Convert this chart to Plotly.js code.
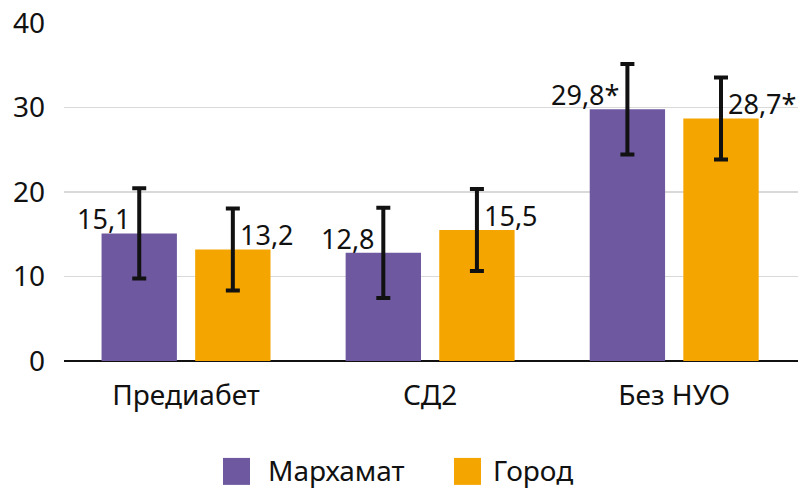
<!DOCTYPE html>
<html><head><meta charset="utf-8">
<script src="https://cdn.plot.ly/plotly-3.0.1.min.js"></script>
<style>html,body{margin:0;padding:0;background:#fff}#chart{width:800px;height:495px}</style>
</head><body><div id="chart"></div>
<script>
const categories = ["Предиабет", "СД2", "Без НУО"];
const seriesNames = ["Мархамат", "Город"];
const markhamatValues = [15.1, 12.8, 29.8];
const gorodValues = [13.2, 15.5, 28.7];
const markhamatErrors = [5.35, 5.35, 5.35];
const gorodErrors = [4.85, 4.85, 4.85];
const markhamatLabels = ["15,1", "12,8", "29,8*"];
const gorodLabels = ["13,2", "15,5", "28,7*"];
const yTicks = [0, 10, 20, 30, 40];

const colors = ["#6E59A0", "#F5A500"];
const FONT = "Noto Sans, Open Sans, sans-serif";
const FS = 28;
const bargap = 0.233, bargroupgap = 0.195;

function barTrace(name, vals, errs, color) {
  return {
    type: "bar", x: categories, y: vals, name: name,
    marker: {color: color, line: {width: 0}},
    error_y: {type: "data", array: errs, visible: true, color: "#111", thickness: 4, width: 7},
    hoverinfo: "skip", showlegend: false
  };
}
const data = [
  barTrace(seriesNames[0], markhamatValues, markhamatErrors, colors[0]),
  barTrace(seriesNames[1], gorodValues, gorodErrors, colors[1])
];

const slot = (1 - bargap) / 2;
const annotations = [];
categories.forEach((c, i) => {
  annotations.push({x: i - slot / 2, y: markhamatValues[i], xref: "x", yref: "y",
    text: markhamatLabels[i], showarrow: false, xanchor: "right", yanchor: "bottom",
    xshift: -6, yshift: -6, font: {family: FONT, size: FS - 1, color: "#111"}});
  annotations.push({x: i + slot / 2, y: gorodValues[i], xref: "x", yref: "y",
    text: gorodLabels[i], showarrow: false, xanchor: "left", yanchor: "bottom",
    xshift: 5, yshift: -6, font: {family: FONT, size: FS - 1, color: "#111"}});
});

const shapes = [];
const legendItems = [{x0: 223, text: seriesNames[0], tx: 266}, {x0: 454, text: seriesNames[1], tx: 491}];
legendItems.forEach((it, k) => {
  shapes.push({type: "rect", xref: "paper", yref: "paper",
    x0: (it.x0 - 64) / 734, x1: (it.x0 + 27 - 64) / 734,
    y0: (361 - 485) / 338.3, y1: (361 - 458) / 338.3,
    fillcolor: colors[k], line: {width: 0}});
  annotations.push({xref: "paper", yref: "paper", x: (it.tx - 64) / 734, y: (361 - 470) / 338.3,
    text: it.text, showarrow: false, xanchor: "left", yanchor: "middle",
    font: {family: FONT, size: FS, color: "#111"}});
});

const layout = {
  width: 800, height: 495,
  margin: {l: 64, r: 2, t: 23, b: 134},
  paper_bgcolor: "#fff", plot_bgcolor: "#fff",
  barmode: "group", bargap: bargap, bargroupgap: bargroupgap,
  font: {family: FONT, size: FS, color: "#111"},
  xaxis: {type: "category", tickvals: categories, showgrid: false, zeroline: false,
    showline: false, ticks: "", tickfont: {family: FONT, size: FS, color: "#111"}, ticklabelstandoff: 15},
  yaxis: {range: [0, 40], tickvals: yTicks, ticktext: yTicks.map(String), showgrid: true,
    gridcolor: "#d9d9d9", gridwidth: 1.5, zeroline: true, zerolinecolor: "#111", zerolinewidth: 1.5,
    showline: false, ticks: "", ticklabelstandoff: 18, tickfont: {family: FONT, size: FS, color: "#111"}},
  annotations: annotations, shapes: shapes, showlegend: false
};
Plotly.newPlot("chart", data, layout, {displayModeBar: false, staticPlot: true});
</script></body></html>
